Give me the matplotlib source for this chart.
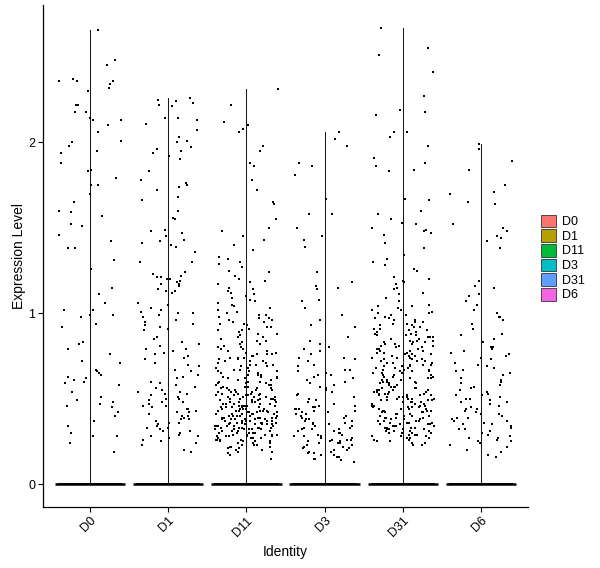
import numpy as np
import matplotlib
matplotlib.use("Agg")
import matplotlib.pyplot as plt
from matplotlib.patches import Patch

plt.rcParams['font.family'] = ['Liberation Sans', 'DejaVu Sans']

identities = ["D0", "D1", "D11", "D3", "D31", "D6"]
colors = ["#F8766D", "#B79F00", "#00BA38", "#00BFC4", "#619CFF", "#F564E3"]

# number of cells with zero expression per identity (form the band at 0)
zero_counts = [1200, 1400, 1500, 1300, 1500, 1200]

expr_D0 = [2.66, 2.48, 2.45, 2.37, 2.36, 2.36, 2.36, 2.34, 2.32, 2.30, 2.22, 2.22, 2.18, 2.18,
           2.14, 2.13, 2.13, 2.10, 2.06, 2.01, 2.00, 1.98, 1.95, 1.94, 1.88, 1.84, 1.83, 1.79,
           1.75, 1.75, 1.70, 1.65, 1.60, 1.59, 1.57, 1.52, 1.51, 1.46, 1.42, 1.38, 1.38, 1.31,
           1.26, 1.15, 1.11, 1.06, 1.02, 1.02, 0.99, 0.99, 0.98, 0.94, 0.92, 0.83, 0.82, 0.79,
           0.76, 0.72, 0.71, 0.67, 0.66, 0.65, 0.64, 0.63, 0.62, 0.61, 0.60, 0.59, 0.58, 0.54,
           0.51, 0.49, 0.48, 0.47, 0.46, 0.45, 0.42, 0.40, 0.37, 0.34, 0.30, 0.28, 0.28, 0.24, 0.19]

expr_D1 = [2.26, 2.25, 2.24, 2.23, 2.22, 2.21, 2.14, 2.14, 2.13, 2.11, 2.07, 2.03, 2.01, 2.00,
           1.97, 1.96, 1.95, 1.94, 1.92, 1.90, 1.83, 1.78, 1.76, 1.75, 1.74, 1.72, 1.68, 1.66,
           1.60, 1.56, 1.55, 1.49, 1.48, 1.47, 1.45, 1.43, 1.42, 1.41, 1.40, 1.39, 1.36, 1.30,
           1.30, 1.24, 1.23, 1.22, 1.21, 1.21, 1.20, 1.20, 1.19, 1.18, 1.17, 1.17, 1.16, 1.14,
           1.13, 1.13, 1.12, 1.06, 1.05, 1.03, 1.02, 1.01, 1.00, 1.00, 0.99, 0.98, 0.96, 0.95,
           0.94, 0.93, 0.92, 0.91, 0.90, 0.86, 0.85, 0.83, 0.82, 0.81, 0.79, 0.79, 0.78, 0.77,
           0.76, 0.75, 0.74, 0.73, 0.71, 0.70, 0.69, 0.67, 0.66, 0.64, 0.63, 0.62, 0.60, 0.59,
           0.58, 0.57, 0.56, 0.55, 0.54, 0.54, 0.53, 0.53, 0.52, 0.51, 0.50, 0.50, 0.49, 0.48,
           0.48, 0.47, 0.46, 0.46, 0.45, 0.44, 0.44, 0.43, 0.42, 0.42, 0.41, 0.40, 0.40, 0.39,
           0.38, 0.38, 0.37, 0.36, 0.36, 0.35, 0.34, 0.33, 0.33, 0.32, 0.31, 0.31, 0.30, 0.29,
           0.28, 0.28, 0.27, 0.26, 0.25, 0.24, 0.23, 0.20, 0.19]

expr_D11 = [2.31, 2.22, 2.12, 2.10, 2.08, 2.06, 1.98, 1.95, 1.88, 1.86, 1.78, 1.72, 1.65, 1.64,
            1.55, 1.50, 1.48, 1.45, 1.43, 1.40, 1.37, 1.33, 1.32, 1.30, 1.29, 1.27, 1.25, 1.24,
            1.22, 1.20, 1.19, 1.18, 1.17, 1.15, 1.14, 1.13, 1.12, 1.11, 1.10, 1.09, 1.08, 1.07,
            1.06, 1.05, 1.04, 1.03, 1.02, 1.01, 1.00, 0.99, 0.99, 0.98, 0.97, 0.97, 0.96, 0.96,
            0.95, 0.95, 0.94, 0.94, 0.93, 0.92, 0.92, 0.91, 0.90, 0.90, 0.89, 0.88, 0.88, 0.87,
            0.86, 0.86, 0.85, 0.84, 0.84, 0.83, 0.82, 0.82, 0.81, 0.80, 0.80, 0.79, 0.79, 0.78,
            0.78, 0.77, 0.77, 0.76, 0.76, 0.76, 0.75, 0.75, 0.75, 0.74, 0.74, 0.74, 0.73, 0.73,
            0.72, 0.72, 0.72, 0.71, 0.71, 0.70, 0.70, 0.70, 0.69, 0.69, 0.68, 0.68, 0.68, 0.67,
            0.67, 0.66, 0.66, 0.66, 0.65, 0.65, 0.64, 0.64, 0.64, 0.63, 0.63, 0.63, 0.62, 0.62,
            0.62, 0.61, 0.61, 0.61, 0.60, 0.60, 0.60, 0.59, 0.59, 0.59, 0.58, 0.58, 0.58, 0.57,
            0.57, 0.57, 0.56, 0.56, 0.56, 0.56, 0.55, 0.55, 0.55, 0.55, 0.54, 0.54, 0.54, 0.54,
            0.53, 0.53, 0.53, 0.53, 0.52, 0.52, 0.52, 0.52, 0.52, 0.51, 0.51, 0.51, 0.51, 0.51,
            0.50, 0.50, 0.50, 0.50, 0.50, 0.50, 0.49, 0.49, 0.49, 0.49, 0.49, 0.48, 0.48, 0.48,
            0.48, 0.48, 0.48, 0.47, 0.47, 0.47, 0.47, 0.47, 0.46, 0.46, 0.46, 0.46, 0.46, 0.46,
            0.45, 0.45, 0.45, 0.45, 0.45, 0.45, 0.44, 0.44, 0.44, 0.44, 0.44, 0.44, 0.43, 0.43,
            0.43, 0.43, 0.43, 0.43, 0.42, 0.42, 0.42, 0.42, 0.42, 0.42, 0.41, 0.41, 0.41, 0.41,
            0.41, 0.41, 0.40, 0.40, 0.40, 0.40, 0.40, 0.40, 0.39, 0.39, 0.39, 0.39, 0.39, 0.39,
            0.38, 0.38, 0.38, 0.38, 0.38, 0.38, 0.37, 0.37, 0.37, 0.37, 0.37, 0.37, 0.36, 0.36,
            0.36, 0.36, 0.36, 0.36, 0.35, 0.35, 0.35, 0.35, 0.35, 0.35, 0.34, 0.34, 0.34, 0.34,
            0.34, 0.34, 0.33, 0.33, 0.33, 0.33, 0.33, 0.33, 0.32, 0.32, 0.32, 0.32, 0.32, 0.32,
            0.31, 0.31, 0.31, 0.31, 0.31, 0.30, 0.30, 0.30, 0.30, 0.30, 0.29, 0.29, 0.29, 0.29,
            0.29, 0.28, 0.28, 0.28, 0.28, 0.28, 0.27, 0.27, 0.27, 0.27, 0.26, 0.26, 0.26, 0.26,
            0.25, 0.25, 0.25, 0.25, 0.24, 0.24, 0.24, 0.23, 0.23, 0.23, 0.22, 0.22, 0.22, 0.21,
            0.21, 0.20, 0.20, 0.19, 0.19, 0.18, 0.17, 0.15]

expr_D3 = [2.06, 2.02, 1.98, 1.88, 1.86, 1.81, 1.67, 1.58, 1.58, 1.50, 1.45, 1.43, 1.39, 1.24,
           1.18, 1.16, 1.15, 1.14, 1.08, 1.07, 1.03, 0.99, 0.96, 0.93, 0.92, 0.86, 0.84, 0.82,
           0.80, 0.79, 0.78, 0.76, 0.74, 0.74, 0.73, 0.72, 0.70, 0.69, 0.67, 0.67, 0.66, 0.65,
           0.64, 0.64, 0.63, 0.62, 0.61, 0.60, 0.59, 0.58, 0.57, 0.56, 0.55, 0.54, 0.53, 0.52,
           0.51, 0.50, 0.49, 0.48, 0.47, 0.46, 0.46, 0.45, 0.45, 0.44, 0.44, 0.44, 0.43, 0.43,
           0.42, 0.42, 0.41, 0.41, 0.40, 0.40, 0.39, 0.39, 0.38, 0.38, 0.37, 0.37, 0.36, 0.36,
           0.35, 0.35, 0.34, 0.34, 0.33, 0.33, 0.32, 0.32, 0.32, 0.31, 0.31, 0.30, 0.30, 0.29,
           0.29, 0.28, 0.28, 0.28, 0.27, 0.27, 0.26, 0.26, 0.26, 0.25, 0.25, 0.25, 0.24, 0.24,
           0.24, 0.23, 0.23, 0.22, 0.22, 0.21, 0.21, 0.20, 0.20, 0.19, 0.19, 0.18, 0.18, 0.17,
           0.17, 0.16, 0.16, 0.15, 0.15, 0.14, 0.13]

expr_D31 = [2.67, 2.55, 2.51, 2.41, 2.27, 2.19, 2.18, 2.16, 2.06, 2.06, 2.03, 1.98, 1.91, 1.88,
            1.86, 1.84, 1.83, 1.67, 1.66, 1.60, 1.58, 1.55, 1.53, 1.52, 1.50, 1.49, 1.48, 1.47,
            1.46, 1.41, 1.38, 1.34, 1.32, 1.30, 1.28, 1.26, 1.25, 1.21, 1.20, 1.19, 1.18, 1.17,
            1.15, 1.14, 1.12, 1.11, 1.09, 1.07, 1.05, 1.04, 1.04, 1.03, 1.02, 1.02, 1.01, 1.00,
            1.00, 0.99, 0.99, 0.98, 0.97, 0.97, 0.96, 0.96, 0.95, 0.95, 0.94, 0.94, 0.93, 0.93,
            0.92, 0.92, 0.91, 0.91, 0.90, 0.90, 0.89, 0.89, 0.88, 0.88, 0.87, 0.87, 0.87, 0.86,
            0.86, 0.86, 0.85, 0.85, 0.84, 0.84, 0.84, 0.83, 0.83, 0.83, 0.82, 0.82, 0.82, 0.81,
            0.81, 0.81, 0.80, 0.80, 0.80, 0.79, 0.79, 0.79, 0.78, 0.78, 0.78, 0.77, 0.77, 0.77,
            0.76, 0.76, 0.76, 0.75, 0.75, 0.75, 0.74, 0.74, 0.74, 0.73, 0.73, 0.73, 0.72, 0.72,
            0.72, 0.71, 0.71, 0.71, 0.70, 0.70, 0.70, 0.69, 0.69, 0.69, 0.68, 0.68, 0.68, 0.67,
            0.67, 0.67, 0.66, 0.66, 0.66, 0.65, 0.65, 0.65, 0.64, 0.64, 0.64, 0.63, 0.63, 0.63,
            0.62, 0.62, 0.62, 0.61, 0.61, 0.61, 0.60, 0.60, 0.60, 0.59, 0.59, 0.59, 0.58, 0.58,
            0.58, 0.57, 0.57, 0.57, 0.56, 0.56, 0.56, 0.55, 0.55, 0.55, 0.55, 0.54, 0.54, 0.54,
            0.54, 0.53, 0.53, 0.53, 0.53, 0.52, 0.52, 0.52, 0.52, 0.51, 0.51, 0.51, 0.51, 0.50,
            0.50, 0.50, 0.50, 0.49, 0.49, 0.49, 0.49, 0.48, 0.48, 0.48, 0.48, 0.47, 0.47, 0.47,
            0.47, 0.46, 0.46, 0.46, 0.46, 0.45, 0.45, 0.45, 0.45, 0.44, 0.44, 0.44, 0.44, 0.43,
            0.43, 0.43, 0.43, 0.42, 0.42, 0.42, 0.42, 0.41, 0.41, 0.41, 0.41, 0.40, 0.40, 0.40,
            0.40, 0.39, 0.39, 0.39, 0.39, 0.38, 0.38, 0.38, 0.38, 0.37, 0.37, 0.37, 0.37, 0.36,
            0.36, 0.36, 0.36, 0.35, 0.35, 0.35, 0.35, 0.34, 0.34, 0.34, 0.34, 0.33, 0.33, 0.33,
            0.33, 0.32, 0.32, 0.32, 0.32, 0.31, 0.31, 0.31, 0.31, 0.30, 0.30, 0.30, 0.30, 0.29,
            0.29, 0.29, 0.28, 0.28, 0.28, 0.27, 0.27, 0.27, 0.26, 0.26, 0.25, 0.25, 0.24, 0.24,
            0.23, 0.23]

expr_D6 = [1.99, 1.96, 1.89, 1.84, 1.75, 1.71, 1.70, 1.65, 1.64, 1.52, 1.50, 1.48, 1.45, 1.44,
           1.42, 1.38, 1.19, 1.16, 1.15, 1.11, 1.10, 1.07, 1.05, 1.02, 1.00, 0.98, 0.98, 0.96,
           0.94, 0.91, 0.88, 0.87, 0.85, 0.83, 0.80, 0.80, 0.79, 0.78, 0.77, 0.76, 0.75, 0.74,
           0.73, 0.71, 0.70, 0.69, 0.68, 0.67, 0.66, 0.65, 0.64, 0.62, 0.61, 0.60, 0.59, 0.58,
           0.57, 0.56, 0.55, 0.54, 0.53, 0.52, 0.52, 0.51, 0.50, 0.50, 0.49, 0.48, 0.48, 0.47,
           0.46, 0.45, 0.44, 0.44, 0.43, 0.42, 0.41, 0.41, 0.40, 0.39, 0.39, 0.38, 0.37, 0.37,
           0.36, 0.35, 0.35, 0.34, 0.33, 0.32, 0.32, 0.31, 0.30, 0.29, 0.29, 0.28, 0.27, 0.27,
           0.26, 0.25, 0.25, 0.24, 0.23, 0.22, 0.20, 0.19, 0.17, 0.16]

groups = [expr_D0, expr_D1, expr_D11, expr_D3, expr_D31, expr_D6]

fig = plt.figure(figsize=(6.0, 5.68), dpi=100)
ax = fig.add_axes([43 / 600, 1 - 507 / 568, (528 - 43) / 600, (507 - 5) / 568])

# horizontal jitter only (like geom_jitter(height = 0)); values are untouched
jitter_rng = np.random.default_rng(7)
gmax = max(max(g) for g in groups)
for i, (vals, nz) in enumerate(zip(groups, zero_counts)):
    xc = i + 1
    vals = np.asarray(vals, dtype=float)
    # violin: nearly all mass at zero -> thin stem + flat base
    ax.plot([xc, xc], [0, vals.max()], color="#1a1a1a", lw=0.75, zorder=2)
    ax.plot([xc - 0.45, xc + 0.45], [0, 0], color="black", lw=1.8,
            solid_capstyle="butt", zorder=2)
    allv = np.concatenate([vals, np.zeros(nz)])
    xs = xc + jitter_rng.uniform(-0.4, 0.4, size=allv.size)
    ax.scatter(xs, allv, s=2.4, marker="s", color="black", linewidths=0, zorder=3)

ax.set_xlim(0.4, 6.6)
ax.set_ylim(-0.05 * gmax, 1.05 * gmax)
ax.set_xticks(range(1, 7))
ax.set_xticklabels(identities, rotation=45, ha="right", va="top",
                   rotation_mode="anchor", fontsize=9)
ax.set_yticks([0, 1, 2])
ax.set_yticklabels(["0", "1", "2"], fontsize=9)
ax.tick_params(axis="both", length=3.5, width=0.8, color="black", labelcolor="black", pad=2)
for side in ["top", "right"]:
    ax.spines[side].set_visible(False)
for side in ["left", "bottom"]:
    ax.spines[side].set_linewidth(0.9)
    ax.spines[side].set_color("black")

ax.set_xlabel("Identity", fontsize=10, labelpad=4)
ax.set_ylabel("Expression Level", fontsize=10, labelpad=2)

handles = [Patch(facecolor=c, edgecolor="#333333", linewidth=0.6, label=lab)
           for c, lab in zip(colors, identities)]
fig.legend(handles=handles, loc="center left", bbox_to_anchor=(541 / 600, 1 - 258 / 568),
           frameon=False, fontsize=9, handlelength=1.2, handleheight=1.2,
           handletextpad=0.45, labelspacing=0.08, borderaxespad=0, borderpad=0)

fig.savefig("out.png", dpi=100)
